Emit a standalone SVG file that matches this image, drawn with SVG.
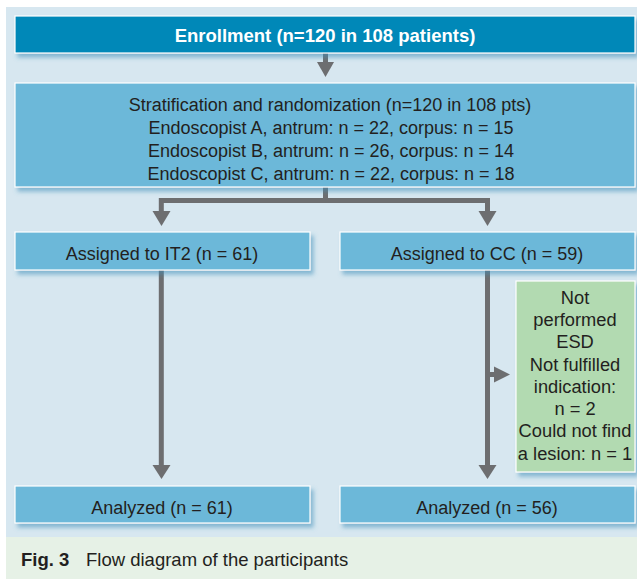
<svg xmlns="http://www.w3.org/2000/svg" width="637" height="582" viewBox="0 0 637 582">
<defs>
<filter id="sh" x="-5%" y="-20%" width="115%" height="150%">
<feDropShadow dx="3" dy="4" stdDeviation="2" flood-color="#3f8fb8" flood-opacity="0.55"/>
</filter>
<style>
.box{fill:#6cb8d9;stroke:#ffffff;stroke-width:1.2;filter:url(#sh)}
.dark{fill:#0088b8;stroke:#ffffff;stroke-width:1.2;filter:url(#sh)}
.green{fill:#b2dab1;stroke:#ffffff;stroke-width:1.2;filter:url(#sh)}
.t{font-family:"Liberation Sans",Arial,sans-serif;font-size:18px;fill:#231f20;text-anchor:middle}
.g{font-family:"Liberation Sans",Arial,sans-serif;font-size:18.3px;fill:#231f20;text-anchor:middle}
.tb{font-family:"Liberation Sans",Arial,sans-serif;font-size:18.5px;font-weight:bold;fill:#ffffff;text-anchor:middle}
.cap{font-family:"Liberation Sans",Arial,sans-serif;font-size:18.5px;fill:#231f20}
.ln{fill:none;stroke:#6d6e70;stroke-width:5}
.hd{fill:#6d6e70}
</style>
</defs>
<rect x="6" y="7" width="631" height="530" fill="#d7e7f0"/>
<rect x="6" y="537" width="631" height="42" fill="#e6f1e6"/>

<g id="connectors">
<path class="ln" d="M325.5,53 V63"/>
<path class="hd" d="M317,62 L334,62 L325.5,77 Z"/>
<path class="ln" d="M325.5,187 V200.5 H161.3 V212"/>
<path class="hd" d="M152.5,211 L170.5,211 L161.5,226 Z"/>
<path class="ln" d="M325.5,200.5 H487.5 V212"/>
<path class="hd" d="M478.5,211 L496.5,211 L487.5,226 Z"/>
<path class="ln" d="M161.3,270 V466"/>
<path class="hd" d="M152.5,465 L170.5,465 L161.5,479 Z"/>
<path class="ln" d="M487.5,270 V466"/>
<path class="hd" d="M478.5,465 L496.5,465 L487.5,479 Z"/>
<path class="ln" d="M487.5,374.5 H495"/>
<path class="hd" d="M494,366.5 L494,382.5 L510,374.5 Z"/>
</g>

<g id="enrollment">
<rect class="dark" x="15" y="16" width="620" height="37"/>
<text class="tb" x="325" y="41.5">Enrollment (n=120 in 108 patients)</text>
</g>

<g id="stratification">
<rect class="box" x="15" y="83" width="620" height="104"/>
<text class="t" x="330" y="110.5">Stratification and randomization (n=120 in 108 pts)</text>
<text class="t" x="331" y="133.5">Endoscopist A, antrum: n = 22, corpus: n = 15</text>
<text class="t" x="331" y="156.5">Endoscopist B, antrum: n = 26, corpus: n = 14</text>
<text class="t" x="331" y="179.5">Endoscopist C, antrum: n = 22, corpus: n = 18</text>
</g>

<g id="assigned-it2">
<rect class="box" x="15" y="232" width="295" height="38"/>
<text class="t" x="162" y="259.5">Assigned to IT2 (n = 61)</text>
</g>

<g id="assigned-cc">
<rect class="box" x="340" y="232" width="295" height="38"/>
<text class="t" x="487" y="259.5">Assigned to CC (n = 59)</text>
</g>

<g id="excluded">
<rect class="green" x="516" y="281" width="119" height="191"/>
<text class="g" x="575" y="303.5">Not</text>
<text class="g" x="575" y="326">performed</text>
<text class="g" x="575" y="348">ESD</text>
<text class="g" x="575" y="370.5">Not fulfilled</text>
<text class="g" x="575" y="392.5">indication:</text>
<text class="g" x="575" y="414.5">n = 2</text>
<text class="g" x="575" y="437">Could not find</text>
<text class="g" x="575" y="459.5">a lesion: n = 1</text>
</g>

<g id="analyzed-it2">
<rect class="box" x="15" y="486" width="295" height="37"/>
<text class="t" x="162" y="513.5">Analyzed (n = 61)</text>
</g>

<g id="analyzed-cc">
<rect class="box" x="340" y="486" width="295" height="37"/>
<text class="t" x="487" y="513.5">Analyzed (n = 56)</text>
</g>

<g id="caption">
<text class="cap" x="21" y="565.5" font-weight="bold">Fig. 3</text>
<text class="cap" x="86" y="565.5">Flow diagram of the participants</text>
</g>
</svg>
